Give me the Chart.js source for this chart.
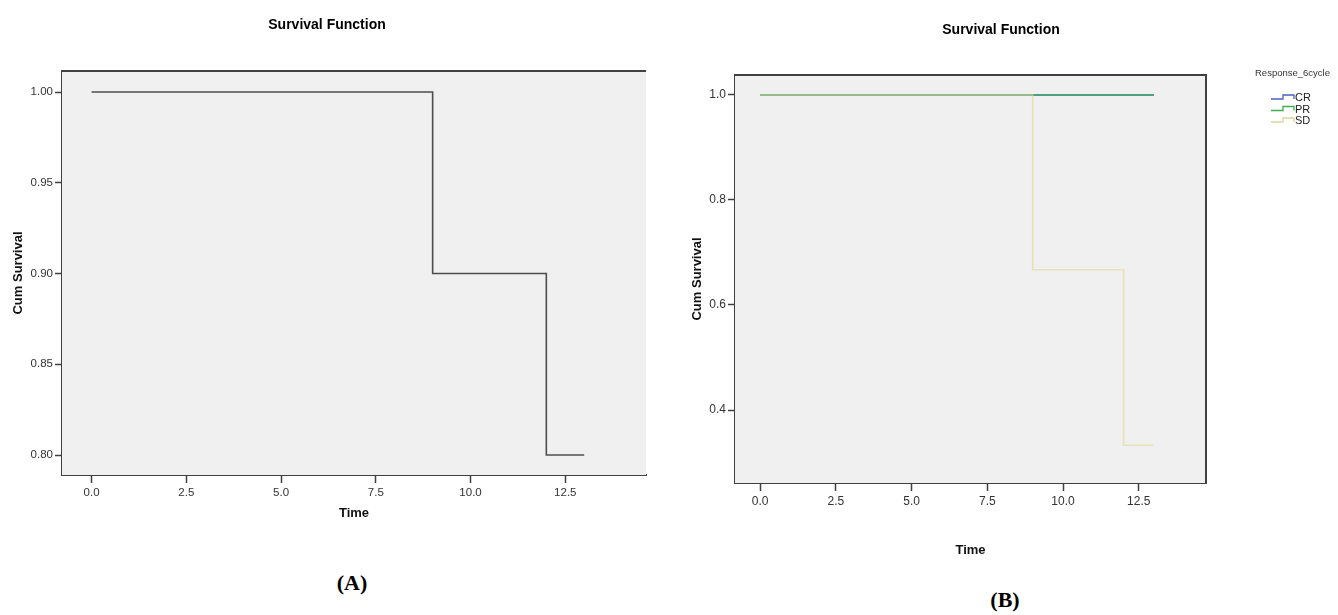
<!DOCTYPE html>
<html>
<head>
<meta charset="utf-8">
<script src="https://cdn.jsdelivr.net/npm/chart.js@4.4.1/dist/chart.umd.min.js"></script>
<style>
  body { margin: 0; background: #fff; width: 1338px; height: 615px; position: relative; overflow: hidden; }
  canvas { position: absolute; top: 0; }
  #chartA { left: 0; }
  #chartB { left: 680px; }
  .panel { position: absolute; font-family: "Liberation Serif", "Times New Roman", serif; font-weight: bold; font-size: 22px; color: #000; transform: translate(-50%, -50%); }
</style>
</head>
<body>
<canvas id="chartA" width="660" height="540"></canvas>
<canvas id="chartB" width="658" height="570"></canvas>
<div class="panel" style="left:352px; top:583px;">(A)</div>
<div class="panel" style="left:1005px; top:600px;">(B)</div>
<script>
// Overall survival (A)
const timesA = [0, 9, 12, 13];
const survA = [1.0, 0.9, 0.8, 0.8];

// Survival by Response_6cycle (B)
const groupsB = ['CR', 'PR', 'SD'];
const timesCR = [0, 13];
const survCR = [1.0, 1.0];
const timesPR = [0, 13];
const survPR = [1.0, 1.0];
const timesSD = [0, 9, 12, 13];
const survSD = [1.0, 0.667, 0.333, 0.333];

// tick labels
const xTicks = [0, 2.5, 5, 7.5, 10, 12.5];
const yTicksA = [0.80, 0.85, 0.90, 0.95, 1.00];
const yTicksB = [0.4, 0.6, 0.8, 1.0];

const FONT = '"Liberation Sans", Arial, sans-serif';
const AXIS = '#404040';
const groupColors = ['#4a62c4', '#45a866', 'rgba(224, 216, 150, 0.65)'];
const legendColors = ['#4a62c4', '#3cb04a', '#ddd59a'];

Chart.defaults.font.family = FONT;
Chart.defaults.color = '#333';

function toPoints(times, surv) {
  return times.map((t, i) => ({ x: t, y: surv[i] }));
}

// gray plot area + the extra frame lines, and the panel title
const framePlugin = {
  id: 'frame',
  beforeDatasetsDraw(chart, args, opts) {
    const { ctx, chartArea: a } = chart;
    ctx.save();
    ctx.fillStyle = '#f0f0f0';
    ctx.fillRect(a.left, a.top, a.right - a.left, a.bottom - a.top);
    ctx.restore();
  },
  afterDraw(chart, args, opts) {
    const { ctx, chartArea: a } = chart;
    ctx.save();
    ctx.strokeStyle = AXIS;
    ctx.lineWidth = 2;
    ctx.beginPath();
    ctx.moveTo(a.left, a.top);
    ctx.lineTo(a.right, a.top);
    if (opts.right) ctx.lineTo(a.right, a.bottom);
    ctx.stroke();
    ctx.fillStyle = '#000';
    ctx.font = 'bold 14px ' + FONT;
    ctx.textAlign = 'center';
    ctx.textBaseline = 'middle';
    ctx.fillText(opts.title, opts.tx, opts.ty);
    ctx.restore();
  }
};

// SPSS style legend with step icons
const stepLegend = {
  id: 'stepLegend',
  afterDraw(chart, args, opts) {
    if (!opts.show) return;
    const { ctx } = chart;
    ctx.save();
    ctx.fillStyle = '#333';
    ctx.font = '9.5px ' + FONT;
    ctx.textBaseline = 'middle';
    ctx.fillText(opts.title, opts.x, opts.y);
    ctx.font = '11px ' + FONT;
    groupsB.forEach((g, i) => {
      const y = opts.y + 24 + i * 11.5;
      const x = opts.x + 16;
      ctx.strokeStyle = legendColors[i];
      ctx.lineWidth = 1.3;
      ctx.beginPath();
      ctx.moveTo(x, y + 2);
      ctx.lineTo(x + 12, y + 2);
      ctx.lineTo(x + 12, y - 2);
      ctx.lineTo(x + 23, y - 2);
      ctx.lineTo(x + 23, y + 2);
      ctx.stroke();
      ctx.fillStyle = '#222';
      ctx.fillText(g, x + 24, y + 1);
    });
    ctx.restore();
  }
};

function axes(xMin, xMax, yMin, yMax, yTicks, yDigits, fontSize, yWidth, xHeight, yTitlePad, xTitlePad) {
  return {
    x: {
      type: 'linear', min: xMin, max: xMax,
      afterBuildTicks: s => { s.ticks = xTicks.map(v => ({ value: v })); },
      afterFit: s => { s.height = xHeight; },
      ticks: { callback: v => v.toFixed(1), font: { size: fontSize }, padding: 3, maxRotation: 0 },
      grid: { drawOnChartArea: false, tickLength: 8, tickWidth: 1.5, tickColor: AXIS },
      border: { color: AXIS, width: 2 },
      title: { display: true, text: 'Time', color: '#111', font: { size: 13, weight: 'bold' }, padding: { top: 0, bottom: xTitlePad } }
    },
    y: {
      type: 'linear', min: yMin, max: yMax,
      afterBuildTicks: s => { s.ticks = yTicks.map(v => ({ value: v })); },
      afterFit: s => { s.width = yWidth; },
      ticks: { callback: v => v.toFixed(yDigits), font: { size: fontSize }, padding: 2 },
      grid: { drawOnChartArea: false, tickLength: 7, tickWidth: 1.5, tickColor: AXIS },
      border: { color: AXIS, width: 2 },
      title: { display: true, text: 'Cum Survival', color: '#111', font: { size: 13, weight: 'bold' }, padding: { top: yTitlePad, bottom: 0 } }
    }
  };
}

new Chart(document.getElementById('chartA'), {
  type: 'line',
  data: {
    datasets: [{
      label: 'Survival',
      data: toPoints(timesA, survA),
      stepped: true,
      borderColor: '#4d4d4d',
      borderWidth: 1.6,
      pointRadius: 0,
      fill: false
    }]
  },
  options: {
    responsive: false,
    animation: false,
    layout: { padding: { top: 71, right: 14, left: 0, bottom: 0 } },
    plugins: {
      legend: { display: false },
      tooltip: { enabled: false },
      frame: { right: false, title: 'Survival Function', tx: 327, ty: 25 },
      stepLegend: { show: false }
    },
    scales: axes(-0.78, 14.63, 0.789, 1.0116, yTicksA, 2, 11.5, 62, 65, 10.2, 19)
  },
  plugins: [framePlugin, stepLegend]
});

const seriesB = [[timesCR, survCR], [timesPR, survPR], [timesSD, survSD]];

new Chart(document.getElementById('chartB'), {
  type: 'line',
  data: {
    datasets: groupsB.map((g, i) => ({
      label: g,
      data: toPoints(seriesB[i][0], seriesB[i][1]),
      stepped: true,
      borderColor: groupColors[i],
      borderWidth: 1.6,
      pointRadius: 0,
      fill: false,
      order: 3 - i
    }))
  },
  options: {
    responsive: false,
    animation: false,
    layout: { padding: { top: 75, right: 132, left: 0, bottom: 0 } },
    plugins: {
      legend: { display: false },
      tooltip: { enabled: false },
      frame: { right: true, title: 'Survival Function', tx: 321, ty: 30 },
      stepLegend: { show: true, title: 'Response_6cycle', x: 575, y: 73 }
    },
    scales: axes(-0.83, 14.72, 0.261, 1.038, yTicksB, 1, 12, 55, 87, 9.2, 12)
  },
  plugins: [framePlugin, stepLegend]
});
</script>
</body>
</html>
